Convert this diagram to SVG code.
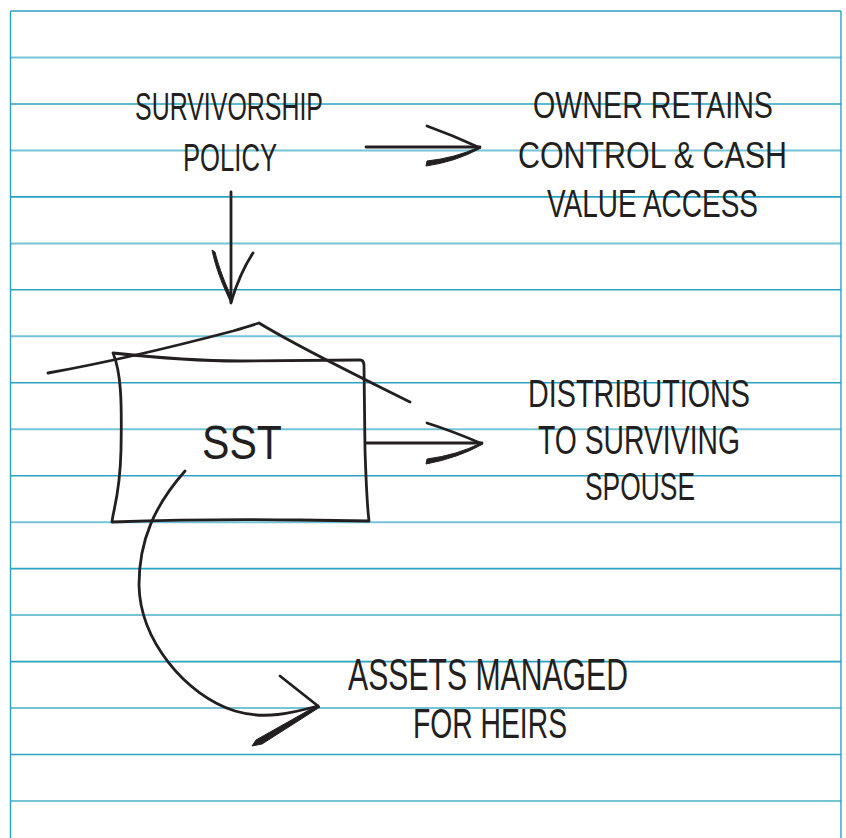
<svg xmlns="http://www.w3.org/2000/svg" width="846" height="838" viewBox="0 0 846 838">
<style>
.rule{stroke:#2aa2c2;stroke-width:1.6;fill:none}
.rule2{stroke:#74c4d6;stroke-width:2;fill:none}
.edge{stroke:#2aa2c2;stroke-width:1.4;fill:none}
.ink{stroke:#231f20;stroke-width:2.8;fill:none;stroke-linecap:round;stroke-linejoin:round}
.inkf{fill:#231f20;stroke:#231f20;stroke-width:1;stroke-linejoin:round}
.hand{font-family:"Liberation Sans Narrow","Liberation Sans","DejaVu Sans Condensed",sans-serif;fill:#231f20;text-anchor:middle}
</style>
<rect width="846" height="838" fill="#ffffff"/>
<g id="paper">
<line class="rule" x1="10.5" y1="11" x2="841" y2="11"/>
<line class="rule2" x1="10.5" y1="57.5" x2="841" y2="57.5"/>
<line class="rule" x1="10.5" y1="104" x2="841" y2="104"/>
<line class="rule2" x1="10.5" y1="150.4" x2="841" y2="150.4"/>
<line class="rule" x1="10.5" y1="196.9" x2="841" y2="196.9"/>
<line class="rule2" x1="10.5" y1="243.4" x2="841" y2="243.4"/>
<line class="rule" x1="10.5" y1="289.8" x2="841" y2="289.8"/>
<line class="rule2" x1="10.5" y1="336.3" x2="841" y2="336.3"/>
<line class="rule" x1="10.5" y1="382.8" x2="841" y2="382.8"/>
<line class="rule2" x1="10.5" y1="429.2" x2="841" y2="429.2"/>
<line class="rule" x1="10.5" y1="475.7" x2="841" y2="475.7"/>
<line class="rule2" x1="10.5" y1="522.2" x2="841" y2="522.2"/>
<line class="rule" x1="10.5" y1="568.6" x2="841" y2="568.6"/>
<line class="rule2" x1="10.5" y1="615.1" x2="841" y2="615.1"/>
<line class="rule" x1="10.5" y1="661.6" x2="841" y2="661.6"/>
<line class="rule2" x1="10.5" y1="708.1" x2="841" y2="708.1"/>
<line class="rule" x1="10.5" y1="754.5" x2="841" y2="754.5"/>
<line class="rule2" x1="10.5" y1="801" x2="841" y2="801"/>
<line class="edge" x1="10.5" y1="11" x2="10.5" y2="838"/>
<line class="edge" x1="841" y1="11" x2="841" y2="838"/>
</g>
<g id="node-survivorship-policy">
<text class="hand" x="229" y="120" font-size="38" textLength="188" lengthAdjust="spacingAndGlyphs">SURVIVORSHIP</text>
<text class="hand" x="230" y="171" font-size="38" textLength="94" lengthAdjust="spacingAndGlyphs">POLICY</text>
</g>
<g id="node-owner-retains">
<text class="hand" x="653" y="118" font-size="37" textLength="240" lengthAdjust="spacingAndGlyphs">OWNER RETAINS</text>
<text class="hand" x="652.5" y="168" font-size="37" textLength="269" lengthAdjust="spacingAndGlyphs">CONTROL &amp; CASH</text>
<text class="hand" x="652.5" y="217" font-size="38" textLength="211" lengthAdjust="spacingAndGlyphs">VALUE ACCESS</text>
</g>
<g id="node-sst">
<path class="ink" d="M113,353 C150,357 190,361 240,361 L360,360 Q364,360 364,366 L365,450 C366,480 367,505 369,521 L300,520 C240,519 170,520 112,522 C113,510 120,495 121,450 C122,400 121,372 113,353 Z"/>
<path class="ink" d="M48,373 C110,362 180,345 233,331 Q250,326 259,323 C300,348 350,372 410,402"/>
<text class="hand" x="242" y="459" font-size="48" textLength="80" lengthAdjust="spacingAndGlyphs">SST</text>
</g>
<g id="node-distributions">
<text class="hand" x="639" y="407" font-size="39" textLength="222" lengthAdjust="spacingAndGlyphs">DISTRIBUTIONS</text>
<text class="hand" x="639" y="454" font-size="40" textLength="202" lengthAdjust="spacingAndGlyphs">TO SURVIVING</text>
<text class="hand" x="640" y="500" font-size="38" textLength="110" lengthAdjust="spacingAndGlyphs">SPOUSE</text>
</g>
<g id="node-assets-heirs">
<text class="hand" x="488" y="690" font-size="44" textLength="280" lengthAdjust="spacingAndGlyphs">ASSETS MANAGED</text>
<text class="hand" x="490" y="738" font-size="42" textLength="154" lengthAdjust="spacingAndGlyphs">FOR HEIRS</text>
</g>
<g id="connectors">
<path class="ink" d="M231,192 L231,303"/>
<path class="inkf" d="M212,250 C216,270 224,288 231,303 L233,300 C226,286 219,268 215,252 Z"/>
<path class="ink" d="M253,253 C243,268 236,286 231,302"/>
<path class="ink" d="M366,147 L480,147"/>
<path class="ink" d="M427,126 Q452,135 478,147"/>
<path class="inkf" d="M479,147 Q455,158 427,161 L426,166 Q455,162 481,148 Z"/>
<path class="ink" d="M367,443 L482,443"/>
<path class="ink" d="M427,423 Q455,432 480,443"/>
<path class="inkf" d="M481,443 Q457,455 427,459 L426,464 Q458,458 483,444 Z"/>
<path class="ink" d="M185,471 C155,505 139,540 139,585 C140,640 185,695 235,711 C265,720 292,713 318,706"/>
<path class="ink" d="M280,676 L318,706"/>
<path class="inkf" d="M318,705 L256,740 L252,746 L262,744 L320,707 Z"/>
</g>
</svg>
